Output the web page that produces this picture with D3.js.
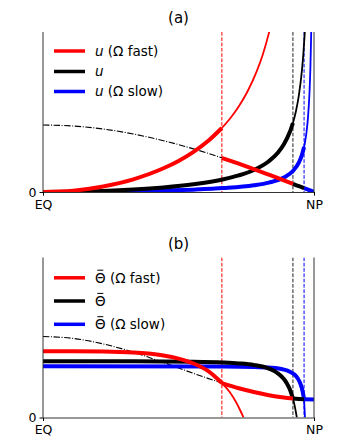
<!DOCTYPE html>
<html>
<head>
<meta charset="utf-8">
<script src="https://cdn.jsdelivr.net/npm/d3@7"></script>
<style>
  body { margin: 0; background: #fff; }
  svg { display: block; font-family: "DejaVu Sans", sans-serif; }
</style>
</head>
<body>
<div id="chart"></div>
<script>
// latitude (deg) on x, arbitrary units on y

// cell edges (Omega fast, reference, Omega slow)
const EDGES = [59.4, 83, 86.7];
const EDGE_COLORS = ["#ff0000", "#222222", "#0000ff"];

// panel (a): zonal wind u
const LAT_UE = [0, 10, 20, 30, 40, 50, 59.4];
const UE_DASHDOT = [0.67, 0.66, 0.63, 0.58, 0.513, 0.431, 0.341];
const LAT_UE_RED = [59.4, 65, 70, 75, 80, 83];
const UE_RED = [0.341, 0.283, 0.229, 0.173, 0.116, 0.082];
const LAT_UE_BLACK = [83, 85, 86.7];
const UE_BLACK = [0.082, 0.058, 0.039];
const LAT_UE_BLUE = [86.7, 88, 90];
const UE_BLUE = [0.039, 0.023, 0];

const LAT_U_FAST = [0, 10, 20, 30, 40, 45, 50, 55, 59.4];
const U_FAST = [0, 0.0135, 0.055, 0.127, 0.237, 0.311, 0.402, 0.515, 0.64];
const LAT_U_FAST_EXT = [59.4, 62, 65, 68, 71, 73, 75, 76];
const U_FAST_EXT = [0.64, 0.73, 0.855, 1.01, 1.208, 1.376, 1.586, 1.71];

const LAT_U_REF = [0, 10, 20, 30, 40, 50, 60, 65, 70, 75, 78, 80, 82, 83];
const U_REF = [0, 0.0026, 0.0106, 0.0247, 0.046, 0.078, 0.128, 0.166, 0.22, 0.308, 0.393, 0.477, 0.602, 0.69];
const LAT_U_REF_EXT = [83, 84, 85, 86, 86.5, 87];
const U_REF_EXT = [0.69, 0.808, 0.972, 1.218, 1.395, 1.627];

const LAT_U_SLOW = [0, 10, 20, 30, 40, 50, 60, 70, 75, 80, 83, 85, 86, 86.7];
const U_SLOW = [0, 0.0008, 0.0032, 0.0075, 0.014, 0.0237, 0.039, 0.067, 0.094, 0.145, 0.21, 0.296, 0.371, 0.45];
const LAT_U_SLOW_EXT = [86.7, 87, 87.5, 88, 88.5, 88.8, 89, 89.1];
const U_SLOW_EXT = [0.45, 0.495, 0.595, 0.744, 0.992, 1.24, 1.49, 1.656];

// panel (b): potential temperature
const LAT_TE = [0, 10, 20, 30, 40, 50, 59.4];
const TE_DASHDOT = [0.81, 0.791, 0.736, 0.653, 0.55, 0.441, 0.345];
const LAT_TE_RED = [59.4, 65, 70, 75, 80, 83];
const TE_RED = [0.345, 0.293, 0.255, 0.223, 0.2, 0.19];
const LAT_TE_BLACK = [83, 85, 86.7];
const TE_BLACK = [0.19, 0.186, 0.183];
const LAT_TE_BLUE = [86.7, 90];
const TE_BLUE = [0.183, 0.181];

const LAT_T_FAST = [0, 10, 20, 30, 35, 40, 45, 50, 55, 59.4];
const T_FAST = [0.663, 0.663, 0.661, 0.651, 0.639, 0.62, 0.589, 0.54, 0.461, 0.345];
const LAT_T_FAST_EXT = [59.4, 62, 64, 66, 66.6];
const T_FAST_EXT = [0.345, 0.255, 0.16, 0.04, 0];

const LAT_T_REF = [0, 30, 50, 60, 65, 70, 75, 78, 80, 81, 82, 83];
const T_REF = [0.563, 0.562, 0.558, 0.55, 0.541, 0.525, 0.489, 0.442, 0.385, 0.341, 0.28, 0.19];
const LAT_T_REF_EXT = [83, 83.5, 84, 84.3];
const T_REF_EXT = [0.19, 0.129, 0.052, 0];

const LAT_T_SLOW = [0, 60, 70, 75, 80, 82, 84, 85, 86, 86.7];
const T_SLOW = [0.513, 0.51, 0.506, 0.499, 0.479, 0.458, 0.415, 0.37, 0.289, 0.183];
const LAT_T_SLOW_EXT = [86.7, 86.85, 87.0];
const T_SLOW_EXT = [0.183, 0.09, 0];

const X_TICKS = [0, 90];
const X_TICK_LABELS = ["EQ", "NP"];

const WIDTH = 350, HEIGHT = 445;
const LEFT = 43, RIGHT = 314;
const THICK = 4, THIN = 1.8;
const LEGEND_FONT = 13.5;

const zip = (xs, ys) => xs.map((x, i) => ({ lat: x, v: ys[i] }));

const svg = d3.select("#chart").append("svg")
  .attr("width", WIDTH).attr("height", HEIGHT);

const x = d3.scaleLinear().domain([0, 90]).range([LEFT, RIGHT]);

function drawPanel(cfg) {
  const y = d3.scaleLinear().domain([0, 1.6]).range([cfg.bottom, cfg.top]);
  const line = d3.line().x(d => x(d.lat)).y(d => y(d.v)).curve(d3.curveMonotoneX);

  const clipId = "clip-" + cfg.id;
  svg.append("clipPath").attr("id", clipId).append("rect")
    .attr("x", LEFT).attr("y", cfg.top)
    .attr("width", RIGHT - LEFT).attr("height", cfg.bottom - cfg.top);

  svg.append("text")
    .attr("x", (LEFT + RIGHT) / 2).attr("y", cfg.top - 9)
    .attr("text-anchor", "middle").attr("font-size", 15)
    .text(cfg.title);

  const g = svg.append("g").attr("clip-path", `url(#${clipId})`);

  // cell edge markers
  EDGES.forEach((e, i) => {
    g.append("line")
      .attr("x1", x(e)).attr("x2", x(e))
      .attr("y1", cfg.top).attr("y2", cfg.bottom)
      .attr("stroke", EDGE_COLORS[i]).attr("stroke-width", 1)
      .attr("stroke-dasharray", "3.7,1.6");
  });

  // radiative-equilibrium curve inside the widest cell
  g.append("path").datum(cfg.eq)
    .attr("d", line).attr("fill", "none")
    .attr("stroke", "#000").attr("stroke-width", 1.1)
    .attr("stroke-dasharray", "6.4,1.6,1,1.6");

  // thin continuations past cell edges
  cfg.series.forEach(s => {
    g.append("path").datum(s.ext)
      .attr("d", line).attr("fill", "none")
      .attr("stroke", s.color).attr("stroke-width", THIN);
  });

  // thick profiles, slow first so fast ends on top
  cfg.series.slice().reverse().forEach(s => {
    [s.cell, s.tail].forEach(seg => {
      g.append("path").datum(seg)
        .attr("d", line).attr("fill", "none")
        .attr("stroke", s.color).attr("stroke-width", THICK)
        .attr("stroke-linecap", "butt");
    });
  });

  // spines
  const spine = svg.append("g").attr("stroke", "#333").attr("stroke-width", 1);
  spine.append("line").attr("x1", LEFT).attr("x2", LEFT).attr("y1", cfg.top).attr("y2", cfg.bottom);
  spine.append("line").attr("x1", RIGHT).attr("x2", RIGHT).attr("y1", cfg.top).attr("y2", cfg.bottom);

  // axes
  svg.append("g")
    .attr("transform", `translate(0,${cfg.bottom})`)
    .call(d3.axisBottom(x).tickValues(X_TICKS).tickSizeOuter(0).tickSize(3.5)
      .tickFormat((d, i) => X_TICK_LABELS[i]))
    .call(a => a.select(".domain").attr("stroke", "#333"))
    .call(a => a.selectAll("text").attr("font-size", 12.5).attr("fill", "#000").attr("dy", "0.8em"))
    .attr("font-family", null);

  svg.append("g")
    .attr("transform", `translate(${LEFT},0)`)
    .call(d3.axisLeft(y).tickValues([0]).tickSizeOuter(0).tickSize(3.5).tickFormat(d3.format("d")))
    .call(a => a.select(".domain").remove())
    .call(a => a.selectAll("text").attr("font-size", 12.5).attr("fill", "#000"))
    .attr("font-family", null);

  // legend
  cfg.series.forEach((s, i) => {
    const ly = cfg.legendY[i];
    svg.append("line")
      .attr("x1", 54).attr("x2", 85).attr("y1", ly).attr("y2", ly)
      .attr("stroke", s.color).attr("stroke-width", 3.5);
    const t = svg.append("text")
      .attr("x", 95).attr("y", ly).attr("dy", "0.35em")
      .attr("font-size", LEGEND_FONT);
    t.append("tspan").attr("font-style", cfg.italicSymbol ? "italic" : null).text(cfg.symbol);
    if (s.suffix) t.append("tspan").text(" " + s.suffix);
    if (cfg.overbar) {
      // mean bar over the symbol
      const w = t.node().getSubStringLength(0, 1);
      svg.append("line")
        .attr("x1", 95 + w * 0.22).attr("x2", 95 + w * 0.78)
        .attr("y1", ly - 7.6).attr("y2", ly - 7.6)
        .attr("stroke", "#000").attr("stroke-width", 1);
    }
  });
}

drawPanel({
  id: "a", title: "(a)", top: 32, bottom: 192,
  symbol: "u", italicSymbol: true, overbar: false,
  legendY: [51, 71.5, 91.5],
  eq: zip(LAT_UE, UE_DASHDOT),
  series: [
    { color: "#ff0000", suffix: "(Ω fast)", cell: zip(LAT_U_FAST, U_FAST), ext: zip(LAT_U_FAST_EXT, U_FAST_EXT), tail: zip(LAT_UE_RED, UE_RED) },
    { color: "#000000", suffix: "", cell: zip(LAT_U_REF, U_REF), ext: zip(LAT_U_REF_EXT, U_REF_EXT), tail: zip(LAT_UE_BLACK, UE_BLACK) },
    { color: "#0000ff", suffix: "(Ω slow)", cell: zip(LAT_U_SLOW, U_SLOW), ext: zip(LAT_U_SLOW_EXT, U_SLOW_EXT), tail: zip(LAT_UE_BLUE, UE_BLUE) }
  ]
});

drawPanel({
  id: "b", title: "(b)", top: 257.5, bottom: 417.5,
  symbol: "Θ", italicSymbol: false, overbar: true,
  legendY: [277.8, 301, 324.3],
  eq: zip(LAT_TE, TE_DASHDOT),
  series: [
    { color: "#ff0000", suffix: "(Ω fast)", cell: zip(LAT_T_FAST, T_FAST), ext: zip(LAT_T_FAST_EXT, T_FAST_EXT), tail: zip(LAT_TE_RED, TE_RED) },
    { color: "#000000", suffix: "", cell: zip(LAT_T_REF, T_REF), ext: zip(LAT_T_REF_EXT, T_REF_EXT), tail: zip(LAT_TE_BLACK, TE_BLACK) },
    { color: "#0000ff", suffix: "(Ω slow)", cell: zip(LAT_T_SLOW, T_SLOW), ext: zip(LAT_T_SLOW_EXT, T_SLOW_EXT), tail: zip(LAT_TE_BLUE, TE_BLUE) }
  ]
});
</script>
</body>
</html>
